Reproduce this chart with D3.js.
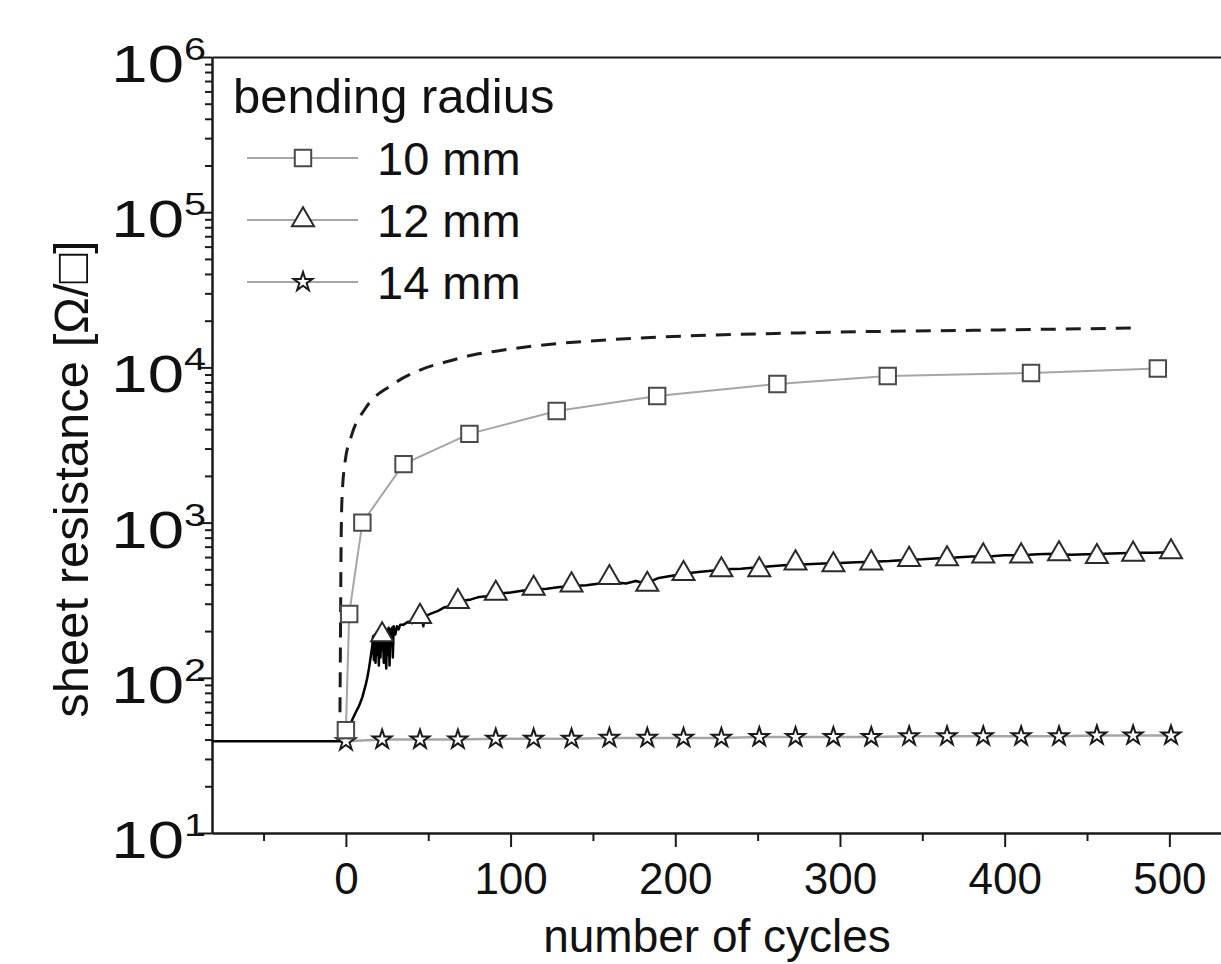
<!DOCTYPE html>
<html lang="en">
<head>
    <meta charset="UTF-8">
    <title>Sheet resistance vs bending cycles</title>
    <script src="https://d3js.org/d3.v7.min.js"></script>
    <style>
        body {
            margin: 0;
            padding: 0;
            background-color: #fff;
            font-family: 'Liberation Sans', Arial, sans-serif;
        }

        .axis path,
        .axis line {
            fill: none;
            stroke: #1a1a1a;
            stroke-width: 2;
        }

        .axis text {
            font-family: 'Liberation Sans', Arial, sans-serif;
            fill: #111;
        }

        text {
            fill: #111;
        }
    </style>
</head>
<body>
    <div id="chart"></div>

    <script>
        // x = number of cycles, y = sheet resistance (ohm/sq)
        const cycles10 = [0, 2, 10, 35, 75, 128, 189, 262, 329, 416, 493];
        const values10 = [46, 258, 1000, 2380, 3730, 5240, 6550, 7820, 8800, 9210, 9840];

        const cycles12 = [22, 45, 68, 91, 114, 137, 160, 183, 205, 228, 251, 273, 296, 319, 342, 365, 387, 410, 433, 456, 478, 501];
        const values12 = [189, 248, 309, 350, 377, 396, 442, 400, 469, 495, 495, 549, 533, 549, 578, 583, 609, 609, 628, 603, 625, 647];

        const cycles14 = [0, 22, 45, 68, 91, 114, 137, 160, 183, 205, 228, 251, 273, 296, 319, 342, 365, 387, 410, 433, 456, 478, 501];
        const values14 = [39, 40, 40, 40, 40.5, 40.5, 40.5, 41, 41, 41, 41, 41.5, 41.5, 41.5, 41.5, 42, 42, 42, 42, 42, 42.5, 42.5, 42.5];

        // raw measurement trace for the 12 mm sample (black line)
        const rawCycles12 = [-81, 0, 1, 2, 4, 6, 8, 10, 12, 13, 14, 15, 16, 16.5, 17, 17.5, 18, 18.5, 19, 19.5, 20, 20.5, 21, 21.5, 22, 22.5, 23, 23.5, 24, 24.5, 25, 25.5, 26, 26.5, 27, 27.5, 28, 28.5, 29, 30, 31, 32, 33, 35, 38, 40, 42, 44, 46, 47, 48, 52, 56, 60, 64, 68, 72, 76, 80, 85, 90, 95, 100, 108, 115, 122, 130, 138, 146, 154, 162, 170, 176, 182, 190, 198, 206, 214, 222, 230, 240, 250, 260, 270, 280, 290, 300, 310, 320, 330, 340, 350, 360, 370, 380, 390, 400, 410, 420, 430, 440, 450, 460, 470, 480, 490, 500, 505];
        const rawValues12 = [39, 39, 44, 48, 54, 60, 66, 75, 90, 100, 115, 135, 160, 185, 130, 190, 125, 195, 140, 200, 120, 195, 135, 205, 150, 200, 125, 205, 160, 115, 205, 140, 210, 120, 205, 170, 210, 135, 215, 190, 215, 205, 220, 220, 230, 225, 240, 235, 250, 215, 250, 260, 270, 285, 290, 305, 315, 320, 330, 335, 345, 350, 355, 365, 370, 375, 385, 390, 395, 405, 415, 405, 420, 405, 440, 455, 470, 480, 490, 500, 505, 515, 525, 535, 540, 545, 550, 555, 560, 565, 575, 580, 590, 595, 605, 605, 615, 615, 625, 630, 620, 625, 630, 635, 640, 640, 645, 640];

        // dashed fit curve
        const fitCycles = [-3.6, -3.3, -3.0, -2.4, -0.6, 3.5, 12, 28, 45, 61, 77, 93, 126, 158, 275, 397, 482];
        const fitValues = [60, 175, 574, 1400, 2420, 3660, 5470, 7710, 9620, 10880, 12020, 12820, 14160, 15030, 16680, 17430, 17950];

        const xMajor = [0, 100, 200, 300, 400, 500];
        const xMinor = [-50, 50, 150, 250, 350, 450];
        const yMajorExp = [1, 2, 3, 4, 5, 6];

        const legendLabels = ["10 mm", "12 mm", "14 mm"];

        const width = 1221;
        const height = 964;
        const plot = { left: 212, top: 57, right: 1227, bottom: 833 };

        const svg = d3.select("#chart").append("svg")
            .attr("width", width)
            .attr("height", height);

        const x = d3.scaleLinear()
            .domain([-81.3, 535])
            .range([plot.left, plot.right]);

        const y = d3.scaleLog()
            .domain([10, 1e6])
            .range([plot.bottom, plot.top]);

        // minor log ticks
        const yMinor = [];
        for (let e = 1; e < 6; e++) {
            for (let m = 2; m <= 9; m++) yMinor.push(m * Math.pow(10, e));
        }

        // axes
        svg.append("g")
            .attr("class", "axis")
            .attr("transform", "translate(0," + plot.bottom + ")")
            .call(d3.axisBottom(x).tickValues(xMinor).tickSize(8).tickSizeOuter(0).tickFormat(""));

        svg.append("g")
            .attr("class", "axis")
            .attr("transform", "translate(0," + plot.bottom + ")")
            .call(d3.axisBottom(x).tickValues(xMajor).tickSize(14).tickSizeOuter(0).tickPadding(16))
            .selectAll("text")
            .style("font-size", "44px");

        svg.append("g")
            .attr("class", "axis")
            .attr("transform", "translate(0," + plot.top + ")")
            .call(d3.axisTop(x).tickValues([]).tickSizeOuter(0));

        svg.append("g")
            .attr("class", "axis")
            .attr("transform", "translate(" + plot.left + ",0)")
            .call(d3.axisLeft(y).tickValues(yMinor).tickSize(7).tickSizeOuter(0).tickFormat(""));

        svg.append("g")
            .attr("class", "axis")
            .attr("transform", "translate(" + plot.left + ",0)")
            .call(d3.axisLeft(y).tickValues(yMajorExp.map(e => Math.pow(10, e))).tickSize(14).tickSizeOuter(0).tickFormat(""));

        // y tick labels: 10 with superscript exponent (slightly wide face as in the original)
        const yLabels = svg.append("g");
        yMajorExp.forEach(function (e) {
            const t = yLabels.append("text")
                .attr("transform", "translate(206," + (y(Math.pow(10, e)) + 25) + ") scale(1.28,1)")
                .attr("text-anchor", "end")
                .style("font-size", "51px");
            t.append("tspan").text("10");
            t.append("tspan")
                .attr("dy", -22)
                .style("font-size", "31px")
                .text(e);
        });

        // axis titles
        svg.append("text")
            .attr("x", 717)
            .attr("y", 952)
            .attr("text-anchor", "middle")
            .style("font-size", "46px")
            .text("number of cycles");

        svg.append("text")
            .attr("transform", "translate(88,479) rotate(-90)")
            .attr("text-anchor", "middle")
            .style("font-size", "49px")
            .text("sheet resistance [Ω/□]");

        const line = d3.line()
            .x(d => x(d[0]))
            .y(d => y(d[1]));

        const zip = (a, b) => a.map((v, i) => [v, b[i]]);

        // dashed fit
        svg.append("path")
            .datum(zip(fitCycles, fitValues))
            .attr("fill", "none")
            .attr("stroke", "#1c1c1c")
            .attr("stroke-width", 3)
            .attr("stroke-dasharray", "15,10")
            .attr("d", line.curve(d3.curveMonotoneX));

        line.curve(d3.curveLinear);

        // grey connecting lines
        svg.append("path")
            .datum(zip(cycles10, values10))
            .attr("fill", "none")
            .attr("stroke", "#a6a6a6")
            .attr("stroke-width", 2)
            .attr("d", line);

        svg.append("path")
            .datum(zip(cycles14, values14))
            .attr("fill", "none")
            .attr("stroke", "#a6a6a6")
            .attr("stroke-width", 2.5)
            .attr("d", line);

        // raw black trace
        svg.append("path")
            .datum(zip(rawCycles12, rawValues12))
            .attr("fill", "none")
            .attr("stroke", "#000")
            .attr("stroke-width", 2.5)
            .attr("stroke-linejoin", "round")
            .attr("d", line);

        const square = d3.symbol().type(d3.symbolSquare).size(270);
        const triangle = d3.symbol().type(d3.symbolTriangle).size(210);
        const star = d3.symbol().type(d3.symbolStar).size(110);

        function markers(cx, cy, sym, stroke) {
            svg.append("g").selectAll("path")
                .data(zip(cx, cy))
                .enter()
                .append("path")
                .attr("transform", d => "translate(" + x(d[0]) + "," + y(d[1]) + ")")
                .attr("d", sym)
                .attr("fill", "#fff")
                .attr("stroke", stroke)
                .attr("stroke-width", 2);
        }

        markers(cycles14, values14, star, "#1a1a1a");
        markers(cycles12, values12, triangle, "#2a2a2a");
        markers(cycles10, values10, square, "#4a4a4a");

        // legend
        const legend = svg.append("g");
        legend.append("text")
            .attr("x", 233)
            .attr("y", 113)
            .style("font-size", "49px")
            .text("bending radius");

        const legendSyms = [square, triangle, star];
        const legendStroke = ["#4a4a4a", "#2a2a2a", "#1a1a1a"];
        legendLabels.forEach(function (lab, i) {
            const ly = 158 + i * 62;
            legend.append("line")
                .attr("x1", 247).attr("x2", 358)
                .attr("y1", ly).attr("y2", ly)
                .attr("stroke", "#a6a6a6")
                .attr("stroke-width", 2);
            legend.append("path")
                .attr("transform", "translate(303," + ly + ")")
                .attr("d", legendSyms[i])
                .attr("fill", "#fff")
                .attr("stroke", legendStroke[i])
                .attr("stroke-width", 2);
            legend.append("text")
                .attr("x", 377)
                .attr("y", ly + 17)
                .style("font-size", "47px")
                .text(lab);
        });
    </script>
</body>
</html>
